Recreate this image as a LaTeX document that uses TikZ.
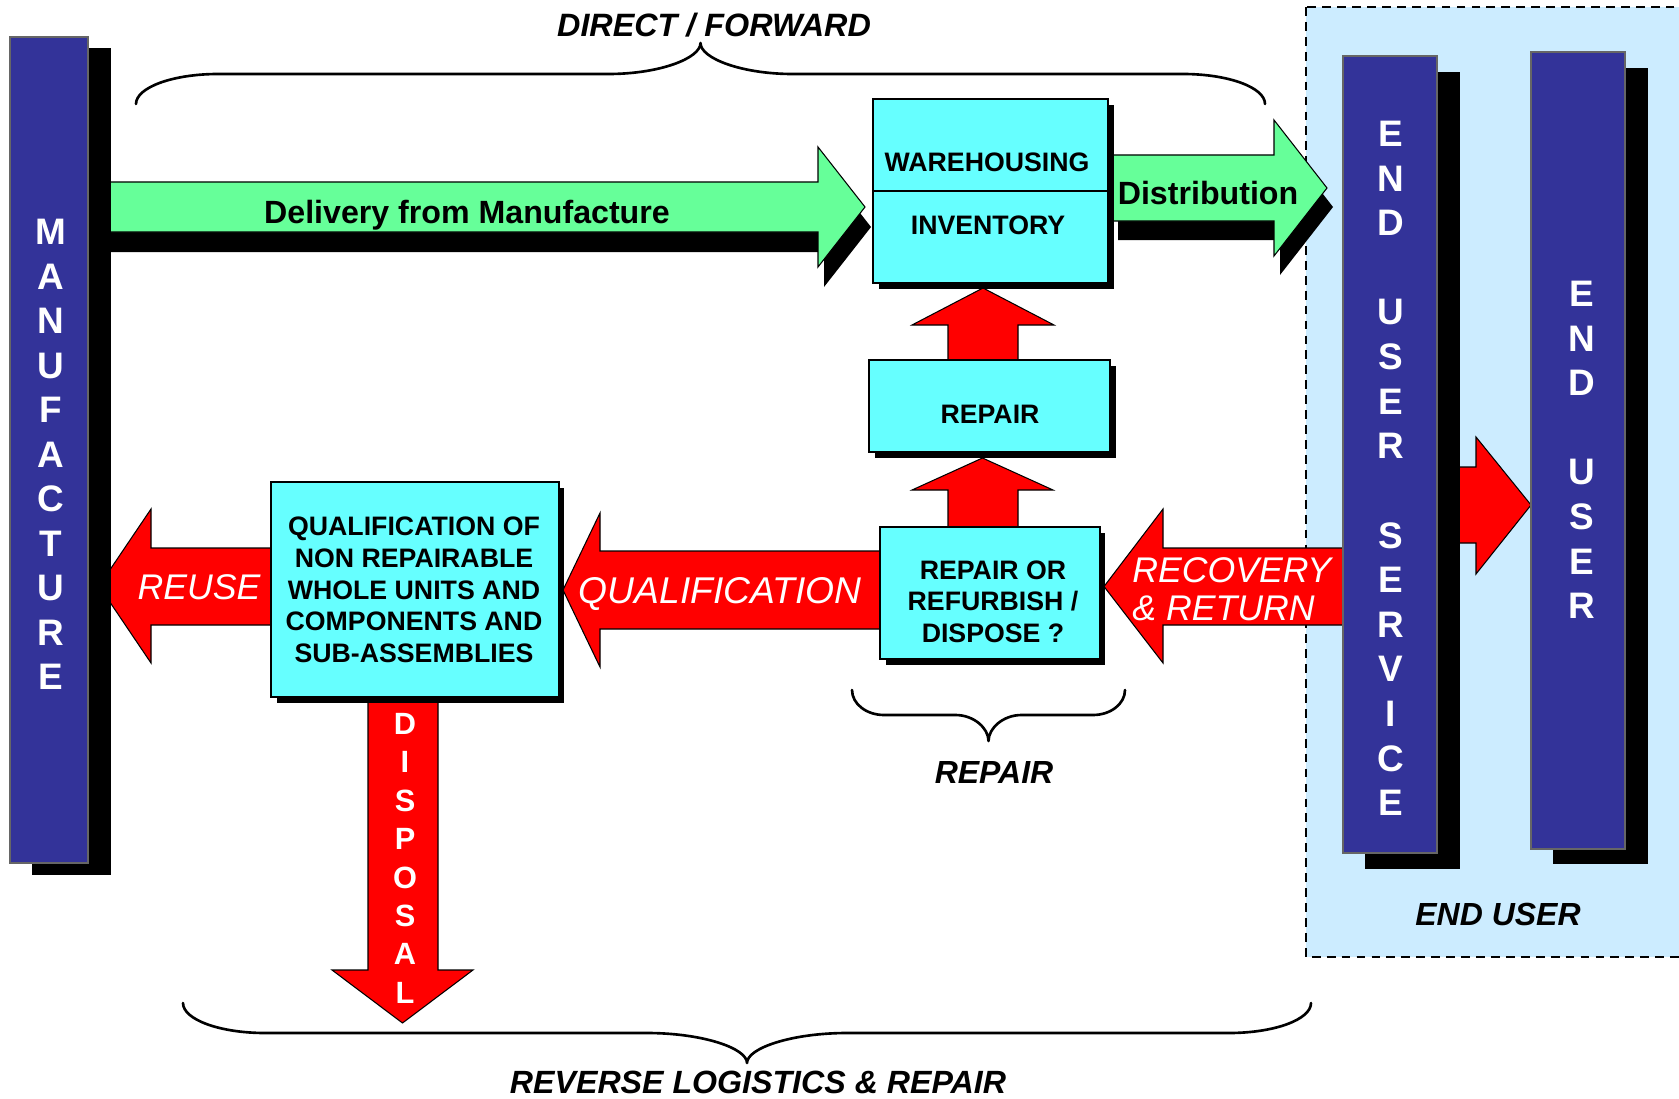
\documentclass[tikz,border=0pt]{standalone}
\usepackage{fontspec}
\setmainfont{Liberation Sans}
\definecolor{barblue}{HTML}{333399}
\definecolor{boxcyan}{HTML}{66FFFF}
\definecolor{flowgreen}{HTML}{66FF99}
\definecolor{zonebg}{HTML}{CCECFF}
\definecolor{flowred}{HTML}{FF0000}

% curly brace: xL, xR, y of the ends, y of the bar, y of the tip, end curl width, centre curl width
\newcommand{\hbrace}[7]{%
  \pgfmathsetmacro{\brcX}{(#1+#2)/2}%
  \draw[bracestyle] (#1,#3) .. controls (#1,{#3-0.552*(#3-#4)}) and ({#1+0.448*#6},#4) .. ({#1+#6},#4)
    -- ({\brcX-#7},#4) .. controls ({\brcX-0.45*#7},#4) and (\brcX,{#4-0.5*(#4-#5)}) .. (\brcX,#5)
    .. controls (\brcX,{#4-0.5*(#4-#5)}) and ({\brcX+0.45*#7},#4) .. ({\brcX+#7},#4)
    -- ({#2-#6},#4) .. controls ({#2-0.448*#6},#4) and (#2,{#3-0.552*(#3-#4)}) .. (#2,#3);
}

\begin{document}
\begin{tikzpicture}[x=0.02cm,y=-0.02cm,
  bracestyle/.style={line width=1.5pt,line cap=round,line join=round},
  zone/.style={fill=zonebg,draw=black,line width=1.1pt,dash pattern=on 5pt off 3.5pt},
  redarrow/.style={fill=flowred,draw=black,line width=0.6pt,line join=miter},
  greenarrow/.style={fill=flowgreen,draw=black,line width=0.6pt,line join=miter},
  shade/.style={fill=black},
  cyanbox/.style={fill=boxcyan,draw=black,line width=0.9pt},
  bar/.style={fill=barblue,draw=black!60,line width=0.8pt},
  boxtext/.style={font=\fontsize{15.2}{18}\selectfont\bfseries,align=center,inner sep=0pt},
  bartext/.style={font=\fontsize{21}{25}\selectfont\bfseries,text=white,inner sep=0pt},
  disptext/.style={font=\fontsize{17.5}{21}\selectfont\bfseries,text=white,inner sep=0pt},
  flowtext/.style={font=\fontsize{18.3}{22}\selectfont\bfseries,inner sep=0pt},
  redlabel/.style={font=\fontsize{20.3}{21.6}\selectfont\itshape,text=white,inner sep=0pt},
  caption/.style={font=\fontsize{18.2}{22}\selectfont\bfseries\itshape,inner sep=0pt}
]
\useasboundingbox (0,0) rectangle (1679,1098);
\clip (0,0) rectangle (1679,1098);

% end-user zone
\path[zone] (1306,7) rectangle (1720,957);

% braces
\hbrace{136}{1265}{104}{74}{43}{82}{92}
\hbrace{852}{1125}{690}{715}{741}{32}{33}
\hbrace{183}{1311}{1003}{1033}{1063}{82}{100}

% reverse flows
\draw[redarrow] (276,548) -- (151,548) -- (151,509) -- (99,586) -- (151,663) -- (151,625) -- (276,625) -- cycle;
\draw[redarrow] (368,690) -- (368,970) -- (332,970) -- (402.5,1023) -- (473,970) -- (438,970) -- (438,690) -- cycle;
\draw[redarrow] (884,551) -- (600,551) -- (600,513) -- (563,590) -- (600,667) -- (600,629) -- (884,629) -- cycle;
\draw[redarrow] (1350,548) -- (1163,548) -- (1163,509) -- (1104,586.5) -- (1163,663) -- (1163,625) -- (1350,625) -- cycle;
\draw[redarrow] (1450,467) -- (1476,467) -- (1476,437) -- (1531,505) -- (1476,574) -- (1476,543) -- (1450,543) -- cycle;
\draw[redarrow] (948,530) -- (948,490) -- (912,490) -- (982.5,458) -- (1053,490) -- (1018,490) -- (1018,530) -- cycle;
\draw[redarrow] (948,363) -- (948,325) -- (912,325) -- (983,288) -- (1054,325) -- (1018,325) -- (1018,363) -- cycle;

% forward flows with their shadows
\path[shade] (105,202) -- (824,202) -- (824,167) -- (871,227) -- (824,287) -- (824,252) -- (105,252) -- cycle;
\draw[greenarrow] (105,182) -- (818,182) -- (818,147) -- (865,207) -- (818,267) -- (818,232) -- (105,232) -- cycle;
\path[shade] (1118,174) -- (1280,174) -- (1280,139) -- (1333,207) -- (1280,275) -- (1280,240) -- (1118,240) -- cycle;
\draw[greenarrow] (1113,155) -- (1274,155) -- (1274,120) -- (1327,188) -- (1274,256) -- (1274,221) -- (1113,221) -- cycle;

% process boxes
\path[shade] (879,105) rectangle (1114,289);
\draw[cyanbox] (873,99) rectangle (1108,283);
\draw[line width=0.9pt] (873,191) -- (1108,191);
\path[shade] (875,366) rectangle (1116,458);
\draw[cyanbox] (869,360) rectangle (1110,452);
\path[shade] (886,533) rectangle (1105,665);
\draw[cyanbox] (880,527) rectangle (1100,659);
\path[shade] (277,488) rectangle (564,703);
\draw[cyanbox] (271,482) rectangle (559,697);

% columns
\path[shade] (32,48) rectangle (111,875);
\draw[bar] (10,37) rectangle (88,863);
\path[shade] (1365,72) rectangle (1460,869);
\draw[bar] (1343,56) rectangle (1437,853);
\path[shade] (1553,68) rectangle (1648,864);
\draw[bar] (1531,52) rectangle (1625,849);

% column lettering
\foreach \ch [count=\i from 0] in {M,A,N,U,F,A,C,T,U,R,E}
  \node[bartext] (mfg\i) at (51,{232+44.5*\i}) {\ch};
\foreach \ch [count=\i from 0] in {E,N,D,,U,S,E,R,,S,E,R,V,I,C,E}
  \node[bartext] (eus\i) at (1391,{134+44.6*\i}) {\ch};
\foreach \ch [count=\i from 0] in {E,N,D,,U,S,E,R}
  \node[bartext] (eu\i) at (1582,{294+44.6*\i}) {\ch};
\foreach \ch [count=\i from 0] in {D,I,S,P,O,S,A,L}
  \node[disptext] (disp\i) at (405,{724+38.4*\i}) {\ch};

% box texts
\node[boxtext] (wh) at (987,162) {WAREHOUSING};
\node[boxtext] (inv) at (988,225) {INVENTORY};
\node[boxtext] (rep) at (990,414) {REPAIR};
\node[boxtext] (dec) at (993,601.5) {REPAIR OR\\REFURBISH /\\DISPOSE ?};
\node[boxtext] (qual) at (414,590) {QUALIFICATION OF\\NON REPAIRABLE\\WHOLE UNITS AND\\COMPONENTS AND\\SUB-ASSEMBLIES};

% flow labels
\node[flowtext,anchor=base] (deliv) at (467,223) {Delivery from Manufacture};
\node[flowtext,anchor=base] (distr) at (1208,205) {Distribution};
\node[redlabel,anchor=base] (reuse) at (199,599) {REUSE};
\node[redlabel,anchor=base,font=\fontsize{21.2}{22}\selectfont\itshape] (qualif) at (720,603) {QUALIFICATION};
\node[redlabel,anchor=west,align=left] (recov) at (1132,589) {RECOVERY\\\& RETURN};

% captions
\node[caption,anchor=base,font=\fontsize{18.4}{22}\selectfont\bfseries\itshape] (direct) at (714,37) {DIRECT / FORWARD};
\node[caption,anchor=base] (repcap) at (994,783) {REPAIR};
\node[caption,anchor=base] (eucap) at (1498,925) {END USER};
\node[caption,anchor=base,font=\fontsize{18.3}{22}\selectfont\bfseries\itshape] (reverse) at (758,1093) {REVERSE LOGISTICS \& REPAIR};
\end{tikzpicture}
\end{document}
